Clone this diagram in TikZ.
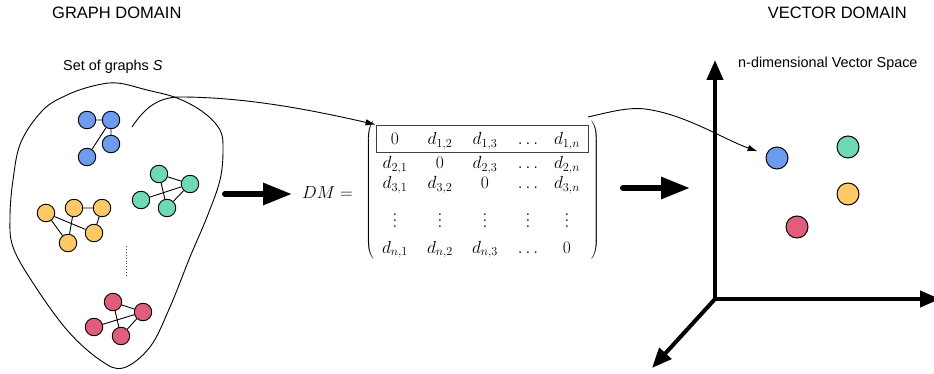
\RequirePackage{fix-cm}
\documentclass[tikz,border=0pt]{standalone}
\usepackage{fontspec}
\setmainfont{Liberation Sans}
\usetikzlibrary{arrows.meta}
\definecolor{gblue}{RGB}{108,155,240}
\definecolor{ggreen}{RGB}{110,217,183}
\definecolor{gyellow}{RGB}{253,201,103}
\definecolor{gred}{RGB}{224,93,124}
\newcommand{\tallvdots}{\vbox{\baselineskip=6.5pt\lineskiplimit=0pt\hbox{$.$}\hbox{$.$}\hbox{$.$}}}
\begin{document}
\begin{tikzpicture}[x=1pt,y=-1pt,
  gn/.style={circle,draw=black,line width=0.9pt,minimum size=17.5pt,inner sep=0pt},
  vp/.style={circle,draw=black,line width=1pt,minimum size=22pt,inner sep=0pt},
  ge/.style={line width=0.9pt},
  me/.style={anchor=base,inner sep=0pt,font=\fontsize{17.5}{21}\selectfont},
  thinarrow/.style={line width=0.9pt,-{Latex[length=10pt,width=6.5pt]}},
  bigarrow/.style={line width=6pt,line cap=round,-{Triangle[length=29pt,width=21pt]}},
  axisline/.style={line width=4pt,-{Triangle[length=20pt,width=16pt]}},
  headtext/.style={inner sep=0pt,font=\fontsize{16.5}{20}\selectfont},
  smalltext/.style={inner sep=0pt,font=\fontsize{14.4}{17}\selectfont}]
\useasboundingbox (0,0) rectangle (934,374);

% titles
\node[headtext,anchor=west] (gd) at (52,13) {GRAPH DOMAIN};
\node[headtext,anchor=east] (vd) at (907,13) {VECTOR DOMAIN};
\node[smalltext,anchor=base west] (sg) at (63,71) {Set of graphs \textit{S}};
\node[smalltext,anchor=base west] (vs) at (738,68) {n-dimensional Vector Space};

% blob
\draw[line width=0.9pt] plot[smooth cycle,tension=0.6] coordinates {
 (21,142) (43,110) (67,95) (93,86) (117,83) (147,90) (177,98) (203,112)
 (220,130) (223,150) (220,180) (207,217) (190,257) (170,307) (150,347)
 (123,368) (100,360) (67,330) (33,283) (13,247) (10,217) (13,180)};

% blue graph
\node[gn,fill=gblue] (b1) at (87,120) {};
\node[gn,fill=gblue] (b2) at (111,120) {};
\node[gn,fill=gblue] (b3) at (111,144) {};
\node[gn,fill=gblue] (b4) at (87,157) {};
\draw[ge] (b1) -- (b2) (b2) -- (b3) (b2) -- (b4);

% green graph
\node[gn,fill=ggreen] (g1) at (159,174) {};
\node[gn,fill=ggreen] (g2) at (190,184) {};
\node[gn,fill=ggreen] (g3) at (141,200) {};
\node[gn,fill=ggreen] (g4) at (167,208) {};
\draw[ge] (g1) -- (g2) (g1) -- (g4) (g3) -- (g2) (g2) -- (g4);

% yellow graph
\node[gn,fill=gyellow] (y1) at (46,213) {};
\node[gn,fill=gyellow] (y2) at (74,208) {};
\node[gn,fill=gyellow] (y3) at (102,208) {};
\node[gn,fill=gyellow] (y4) at (94,233) {};
\node[gn,fill=gyellow] (y5) at (68,243) {};
\draw[ge] (y2) -- (y3) (y1) -- (y5) (y1) -- (y4) (y2) -- (y5) (y3) -- (y4);

% dotted
\coordinate (dt1) at (126,246);
\coordinate (dt2) at (126,276);
\draw[line width=0.9pt,dotted,black!70] (dt1) -- (dt2);

% red graph
\node[gn,fill=gred] (r1) at (113,302) {};
\node[gn,fill=gred] (r2) at (143,312) {};
\node[gn,fill=gred] (r3) at (94,327) {};
\node[gn,fill=gred] (r4) at (121,336) {};
\draw[ge] (r1) -- (r2) (r1) -- (r4) (r3) -- (r2) (r2) -- (r4);

% big arrows
\coordinate (la1) at (225,194);
\coordinate (la2) at (292,194);
\draw[bigarrow] (la1) -- (la2);
\coordinate (ra1) at (623,188);
\coordinate (ra2) at (690,188);
\draw[bigarrow] (ra1) -- (ra2);

% matrix
\node[me,anchor=base west] (dm) at (302,199) {$DM=$};
\node[inner sep=0pt,font=\fontsize{16.5}{20}\selectfont] (lp) at (370,190.5) {$\left(\vcenter{\hrule height 138pt width 0pt}\right.$};
\node[inner sep=0pt,font=\fontsize{16.5}{20}\selectfont] (rp) at (595,190.5) {$\left.\vcenter{\hrule height 138pt width 0pt}\right)$};

\node[me] (m11) at (395,145) {$0$};
\node[me] (m12) at (440,145) {$d_{1,2}$};
\node[me] (m13) at (485,145) {$d_{1,3}$};
\node[me] (m14) at (528,145) {$\ldots$};
\node[me] (m15) at (567,145) {$d_{1,n}$};

\node[me] (m21) at (395,169) {$d_{2,1}$};
\node[me] (m22) at (440,169) {$0$};
\node[me] (m23) at (485,169) {$d_{2,3}$};
\node[me] (m24) at (528,169) {$\ldots$};
\node[me] (m25) at (567,169) {$d_{2,n}$};

\node[me] (m31) at (395,189) {$d_{3,1}$};
\node[me] (m32) at (440,189) {$d_{3,2}$};
\node[me] (m33) at (485,189) {$0$};
\node[me] (m34) at (528,189) {$\ldots$};
\node[me] (m35) at (567,189) {$d_{3,n}$};

\node[me] (m41) at (395,228) {\tallvdots};
\node[me] (m42) at (440,228) {\tallvdots};
\node[me] (m43) at (485,228) {\tallvdots};
\node[me] (m44) at (528,228) {\tallvdots};
\node[me] (m45) at (567,228) {\tallvdots};

\node[me] (m51) at (395,253) {$d_{n,1}$};
\node[me] (m52) at (440,253) {$d_{n,2}$};
\node[me] (m53) at (485,253) {$d_{n,3}$};
\node[me] (m54) at (528,253) {$\ldots$};
\node[me] (m55) at (567,253) {$0$};

\node[draw=black!75,line width=0.9pt,minimum width=212pt,minimum height=27pt,inner sep=0pt] (rowbox) at (482,138.5) {};

% connector from graph set to row
\coordinate (cs) at (132,127);
\draw[thinarrow] (cs) .. controls (142,112) and (155,97) .. (180,97)
  .. controls (250,97) and (320,112) .. (rowbox.north west);

% vector space axes
\coordinate (o) at (715,299);
\coordinate (ytip) at (715,60);
\coordinate (xtip) at (940,299);
\coordinate (ztip) at (652,368);
\draw[axisline] (o) -- (ytip);
\draw[axisline] (o) -- (xtip);
\draw[axisline] (o) -- (ztip);

% points
\node[vp,fill=gblue] (vb) at (777,158) {};
\node[vp,fill=ggreen] (vg) at (848,147) {};
\node[vp,fill=gyellow] (vy) at (848,194) {};
\node[vp,fill=gred] (vr) at (797,227) {};

% connector from row to vector
\coordinate (rs) at (588,117);
\draw[thinarrow,shorten >=9pt] (rs) .. controls (610,112) and (628,107) .. (645,109)
  .. controls (685,114) and (725,140) .. (vb);
\end{tikzpicture}
\end{document}
